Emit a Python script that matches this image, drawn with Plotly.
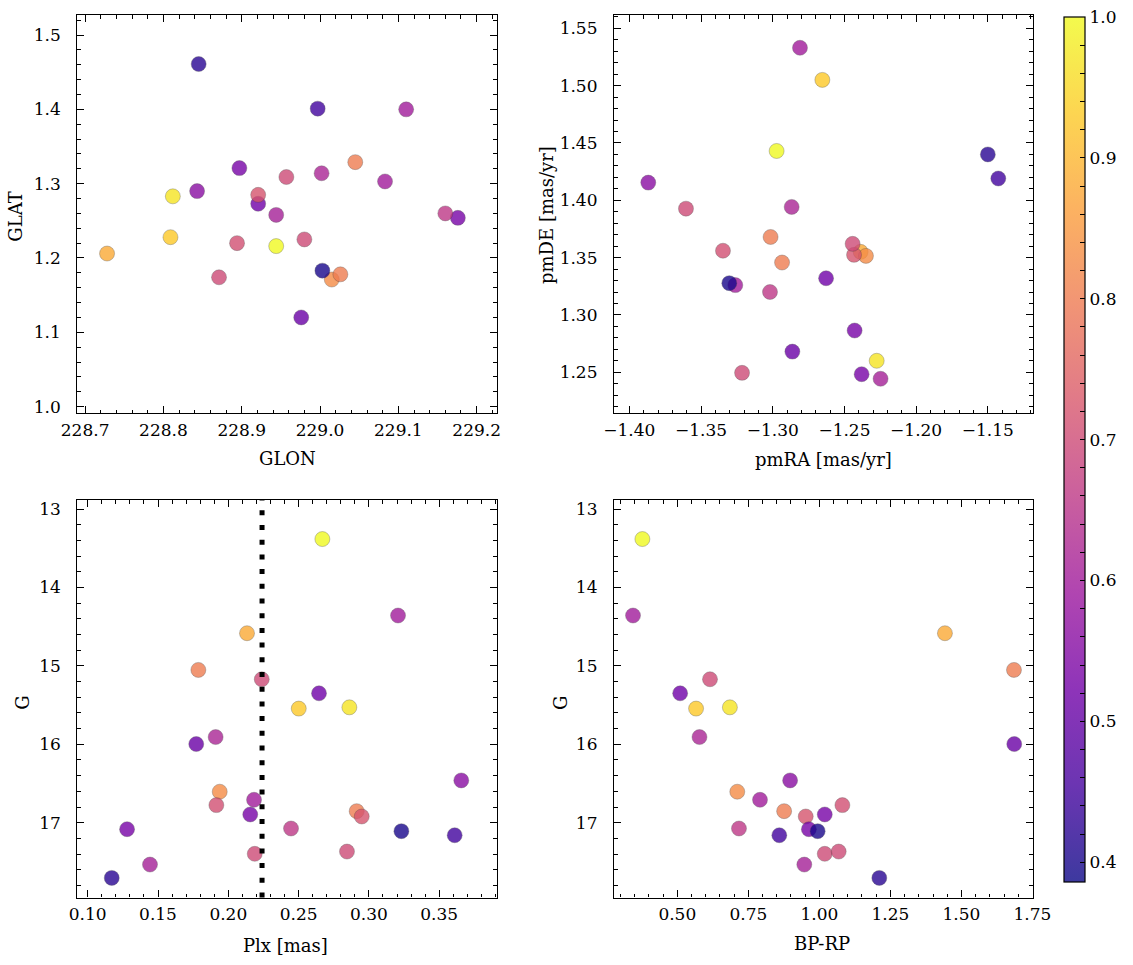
import plotly.graph_objects as go

# ---- data (one entry per star) ----
color_val = [1.00, 0.60, 0.88, 0.80, 0.70, 0.52, 0.93, 0.97, 0.62, 0.51,
             0.56, 0.83, 0.71, 0.60, 0.53, 0.80, 0.72, 0.53, 0.66, 0.40,
             0.45, 0.70, 0.70, 0.61, 0.42]
glon = [228.944, 229.110, 228.728, 229.045, 228.957, 228.921, 228.809, 228.812, 229.002, 228.976,
        228.843, 229.015, 228.894, 229.083, 228.897, 229.026, 228.921, 229.176, 229.160, 229.003,
        228.997, 228.980, 228.871, 228.944, 228.845]
glat = [1.216, 1.400, 1.206, 1.329, 1.309, 1.273, 1.228, 1.283, 1.314, 1.120,
        1.290, 1.171, 1.220, 1.303, 1.321, 1.178, 1.285, 1.254, 1.260, 1.183,
        1.401, 1.225, 1.174, 1.258, 1.461]
pmra = [-1.2973, -1.2810, -1.2387, -1.3015, -1.3605, -1.2628, -1.2654, -1.2275, -1.2868, -1.2863,
        -1.3868, -1.2350, -1.3347, -1.3261, -1.2429, -1.2935, -1.2433, -1.2380, -1.3019, -1.3303,
        -1.1427, -1.2443, -1.3214, -1.2248, -1.1500]
pmde = [1.4430, 1.5330, 1.3550, 1.3680, 1.3927, 1.3320, 1.5050, 1.2600, 1.3942, 1.2680,
        1.4154, 1.3515, 1.3560, 1.3260, 1.2864, 1.3457, 1.3524, 1.2483, 1.3200, 1.3277,
        1.4190, 1.3620, 1.2495, 1.2443, 1.4400]
plx = [0.2669, 0.3207, 0.2133, 0.1787, 0.2238, 0.2645, 0.2501, 0.2861, 0.1910, 0.1772,
       0.3657, 0.1939, 0.1915, 0.2183, 0.2156, 0.2913, 0.2949, 0.1280, 0.2446, 0.3231,
       0.3610, 0.2188, 0.2844, 0.1443, 0.1171]
gmag = [13.383, 14.358, 14.584, 15.052, 15.171, 15.350, 15.545, 15.529, 15.908, 15.997,
        16.461, 16.605, 16.776, 16.708, 16.895, 16.853, 16.921, 17.083, 17.074, 17.108,
        17.160, 17.397, 17.368, 17.534, 17.704]
bprp = [0.377, 0.344, 1.442, 1.685, 0.615, 0.510, 0.566, 0.685, 0.578, 1.686,
        0.897, 0.711, 1.081, 0.791, 1.019, 0.876, 0.952, 0.963, 0.717, 0.994,
        0.859, 1.019, 1.068, 0.947, 1.211]
plx_cut = 0.224
cmin, cmax = 0.386, 1.0

# ---- style ----
FONT = "DejaVu Serif"
FS = 17
FT = 18
plasma = ['#0d0887', '#46039f', '#7201a8', '#9c179e', '#bd3786',
          '#d8576b', '#ed7953', '#fb9f3a', '#fdca26', '#f0f921']
ALPHA = 0.8


def blend(hexc, a=ALPHA):
    r, g, b = int(hexc[1:3], 16), int(hexc[3:5], 16), int(hexc[5:7], 16)
    f = lambda v: round(v * a + 255 * (1 - a))
    return f"rgb({f(r)},{f(g)},{f(b)})"


plasma_scale = [[i / 9, c] for i, c in enumerate(plasma)]
plasma_faded = [[i / 9, blend(c)] for i, c in enumerate(plasma)]

fig = go.Figure()

panels = [
    (glon, glat, "x", "y"),
    (pmra, pmde, "x2", "y2"),
    (plx, gmag, "x3", "y3"),
    (bprp, gmag, "x4", "y4"),
]
for xs, ys, xa, ya in panels:
    fig.add_trace(go.Scatter(
        x=xs, y=ys, xaxis=xa, yaxis=ya, mode="markers", showlegend=False,
        marker=dict(size=15, color=color_val, colorscale=plasma_scale, cmin=cmin, cmax=cmax,
                    opacity=ALPHA, line=dict(width=0.6, color="rgba(60,60,60,0.6)"),
                    showscale=False),
    ))

# colour bar (faded like the alpha-blended markers)
fig.add_trace(go.Scatter(
    x=[None], y=[None], xaxis="x", yaxis="y", mode="markers", showlegend=False,
    marker=dict(color=[0.5], colorscale=plasma_faded, cmin=cmin, cmax=cmax, showscale=True,
                colorbar=dict(x=1064 / 1133, xanchor="left", y=1 - 17 / 965, yanchor="top",
                              len=865 / 965, lenmode="fraction", thickness=21, thicknessmode="pixels",
                              xpad=0, ypad=0, outlinewidth=1.2, outlinecolor="black",
                              ticks="inside", ticklen=5, tickwidth=1, tickcolor="black",
                              tickvals=[round(0.40 + 0.02 * i, 2) for i in range(31)],
                              ticktext=[(f"{0.40 + 0.02 * i:.1f}" if i % 5 == 0 else "") for i in range(31)],
                              tickfont=dict(family=FONT, size=FS, color="black"))),
))


def axis(domain, rng, dtick, minor, fmt, anchor, standoff):
    return dict(domain=domain, range=rng, anchor=anchor, dtick=dtick, tick0=0,
                tickformat=fmt, ticks="inside", ticklen=7, tickwidth=1, tickcolor="black",
                minor=dict(dtick=minor, ticks="inside", ticklen=3.5, tickwidth=1, tickcolor="black"),
                showline=True, linecolor="black", linewidth=1.2, mirror="allticks",
                showgrid=False, zeroline=False, ticklabelstandoff=standoff, automargin=False,
                tickfont=dict(family=FONT, size=FS, color="black"))


xd1 = [77.3 / 1133, 497 / 1133]
xd2 = [614 / 1133, 1033 / 1133]
yd1 = [1 - 413.3 / 965, 1 - 15 / 965]
yd2 = [1 - 897.5 / 965, 1 - 500 / 965]
XS, YS = 1, 12

fig.update_layout(
    width=1133, height=965, margin=dict(l=0, r=0, t=0, b=0, autoexpand=False),
    paper_bgcolor="white", plot_bgcolor="white",
    font=dict(family=FONT, size=FS, color="black"),
    xaxis=axis(xd1, [228.690, 229.226], 0.1, 0.02, ".1f", "y", XS),
    yaxis=axis(yd1, [0.991, 1.527], 0.1, 0.02, ".1f", "x", YS),
    xaxis2=axis(xd2, [-1.4107, -1.1185], 0.05, 0.01, ".2f", "y2", XS),
    yaxis2=axis(yd1, [1.2142, 1.5616], 0.05, 0.01, ".2f", "x2", YS),
    xaxis3=axis(xd1, [0.0926, 0.3911], 0.05, 0.01, ".2f", "y3", XS),
    yaxis3=axis(yd2, [17.954, 12.885], 1, 0.2, "d", "x3", YS),
    xaxis4=axis(xd2, [0.2771, 1.752], 0.25, 0.05, ".2f", "y4", XS),
    yaxis4=axis(yd2, [17.954, 12.885], 1, 0.2, "d", "x4", YS),
)

# vertical dotted line at the parallax cut
fig.add_shape(type="line", xref="x3", yref="y3 domain", x0=plx_cut, x1=plx_cut, y0=0, y1=1,
              line=dict(color="black", width=5, dash="5px,9.7px"))

# axis titles
titles = [
    ("GLON", 287, 458, 0), ("GLAT", 16, 216.7, -90),
    ("pmRA [mas/yr]", 823, 460, 0), ("pmDE [mas/yr]", 546, 215, -90),
    ("Plx [mas]", 285, 945, 0), ("G", 21.7, 703, -90),
    ("BP-RP", 822, 943.3, 0), ("G", 560, 703, -90),
]
for txt, px, py, ang in titles:
    fig.add_annotation(text=txt, x=px / 1133, y=1 - py / 965, xref="paper", yref="paper",
                       showarrow=False, textangle=ang, xanchor="center", yanchor="middle",
                       font=dict(family=FONT, size=FT, color="black"))

fig.write_html("out.html")
